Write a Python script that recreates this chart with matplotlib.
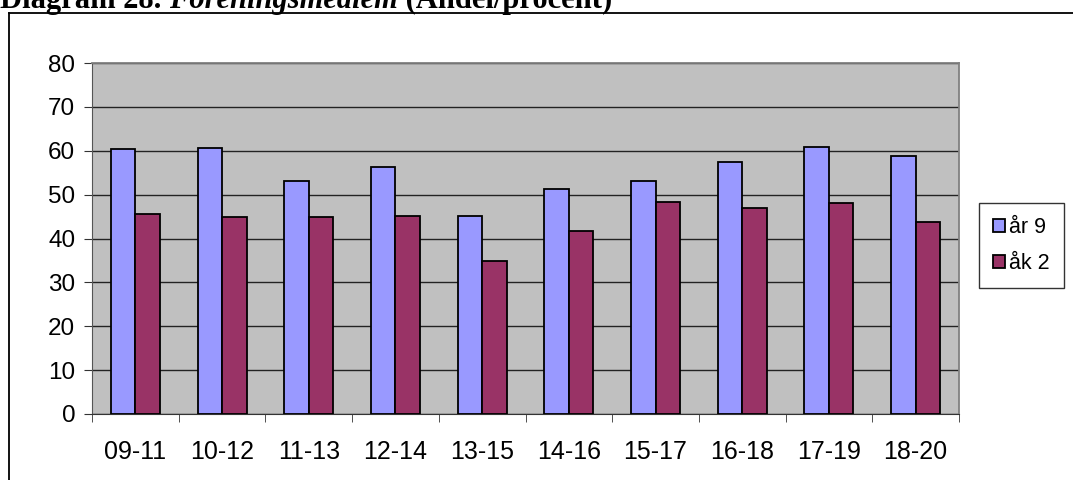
import matplotlib.pyplot as plt
import numpy as np
from matplotlib.lines import Line2D

# data
perioder = ['09-11', '10-12', '11-13', '12-14', '13-15', '14-16', '15-17', '16-18', '17-19', '18-20']
ar9 = [60.4, 60.7, 53.0, 56.3, 45.2, 51.3, 53.0, 57.4, 60.9, 58.9]
ak2 = [45.5, 44.8, 44.8, 45.2, 34.9, 41.6, 48.3, 47.0, 48.0, 43.8]
serier = ['år 9', 'åk 2']
yticks = [0, 10, 20, 30, 40, 50, 60, 70, 80]

plt.rcParams['font.family'] = ['Liberation Sans', 'DejaVu Sans']
fig = plt.figure(figsize=(10.73, 4.8), dpi=100)

# ram runt diagrammet (syns bara vänster och topp)
fig.add_artist(Line2D([9/1073, 9/1073], [0, 1 - 13/480], color='black', lw=1.3, transform=fig.transFigure))
fig.add_artist(Line2D([9/1073, 1], [1 - 13/480, 1 - 13/480], color='black', lw=1.3, transform=fig.transFigure))

# rubrik, delvis avklippt upptill som i originalet
yb = 1 - 8/480
fs = 22
t1 = fig.text(0.0, yb, 'Diagram 28. ', family='Liberation Serif', fontweight='bold', fontsize=fs, va='baseline', ha='left')
fig.canvas.draw()
x1 = t1.get_window_extent().x1 / fig.bbox.width
t2 = fig.text(x1, yb, 'Föreningsmedlem', family='Liberation Serif', fontweight='bold', fontstyle='italic', fontsize=fs, va='baseline', ha='left')
fig.canvas.draw()
x2 = t2.get_window_extent().x1 / fig.bbox.width
fig.text(x2, yb, ' (Andel/procent)', family='Liberation Serif', fontweight='bold', fontsize=fs, va='baseline', ha='left')

ax = fig.add_axes([92/1073, 66/480, (959 - 92)/1073, (414 - 63)/480])
ax.set_facecolor('#C0C0C0')

x = np.arange(len(perioder))
w = 0.283
ax.bar(x - w/2, ar9, width=w, color='#9999FF', edgecolor='black', linewidth=1.3, label=serier[0], zorder=3)
ax.bar(x + w/2, ak2, width=w, color='#993366', edgecolor='black', linewidth=1.3, label=serier[1], zorder=3)

ax.set_xlim(-0.5, len(perioder) - 0.5)
ax.set_ylim(0, 80)
ax.set_yticks(yticks)
ax.yaxis.grid(True, color='#222222', linewidth=1.0, zorder=1)
ax.set_axisbelow(True)

ax.set_xticks(x)
ax.set_xticklabels(perioder, fontsize=18)
ax.tick_params(axis='x', which='major', length=0, pad=19)
ax.set_xticks(np.arange(-0.5, len(perioder)), minor=True)
ax.tick_params(axis='x', which='minor', length=6, direction='out', color='#333333')
ax.tick_params(axis='y', length=6, direction='out', labelsize=17.5, pad=6, color='#333333')

for s in ['top', 'right']:
    ax.spines[s].set_color('#808080')
    ax.spines[s].set_linewidth(1.3)
ax.spines['left'].set_color('#555555')
ax.spines['bottom'].set_color('#333333')

leg = fig.legend(handles=ax.containers, labels=serier, loc='upper left',
                 bbox_to_anchor=(979/1073, 1 - 203/480), fontsize=15.5, frameon=True,
                 fancybox=False, edgecolor='black', handlelength=0.55, handleheight=0.55,
                 handletextpad=0.2, borderpad=0.65, labelspacing=0.7, borderaxespad=0)
leg.get_frame().set_linewidth(1.0)
# ramen går ut över högerkanten i originalet
fig.canvas.draw()
ram = leg.get_frame()
ram.set_width(ram.get_width() + 20)

fig.savefig('out.png', dpi=100)
